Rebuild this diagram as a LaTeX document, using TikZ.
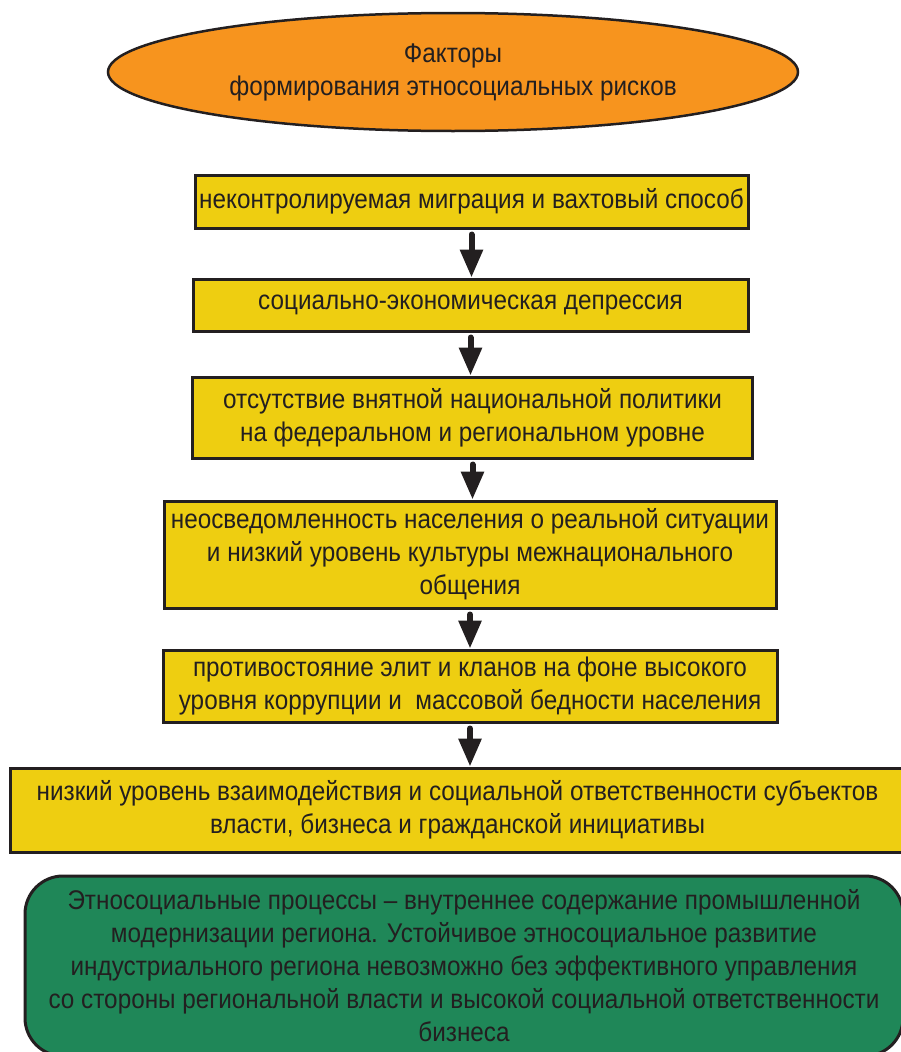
\documentclass[tikz,border=0pt]{standalone}
\usepackage{fontspec}
\setmainfont{Liberation Sans}[FakeStretch=0.9]
\usepackage{tikz}
\usetikzlibrary{arrows.meta,positioning,shapes.geometric}

\definecolor{inkdark}{RGB}{35,31,32}
\definecolor{titleorange}{RGB}{247,148,30}
\definecolor{factoryellow}{RGB}{238,206,17}
\definecolor{summarygreen}{RGB}{31,135,88}

\begin{document}
\begin{tikzpicture}[x=1pt, y=1pt,
        every node/.style={font=\fontsize{27}{33}\selectfont, text=inkdark, align=center},
        titleshape/.style={ellipse, draw=inkdark, line width=2.5pt, fill=titleorange, inner sep=0pt},
        factor/.style={rectangle, draw=inkdark, line width=3pt, fill=factoryellow, inner sep=0pt},
        summary/.style={rectangle, rounded corners=38pt, draw=inkdark, line width=3pt, fill=summarygreen, inner sep=0pt},
        flow/.style={draw=inkdark, line width=6pt, line cap=round, shorten <=5pt, -{Triangle[width=22pt,length=28pt]}}]
        \useasboundingbox (0,0) rectangle (901,-1052);
        \node[titleshape, minimum width=690pt, minimum height=118pt] (factors) at (453,-72) {Факторы\\формирования этносоциальных рисков};
        \node[factor, minimum width=553pt, minimum height=53pt] (migration) at (471.5,-201.5) {неконтролируемая миграция и вахтовый способ};
        \node[factor, minimum width=555pt, minimum height=52pt, below=48pt of migration, xshift=-1pt] (depression) {социально-экономическая депрессия};
        \draw[flow] (migration.south) -- (migration.south |- depression.north);
        \node[factor, minimum width=560pt, minimum height=81pt, below=43pt of depression, xshift=2pt] (policy) {отсутствие внятной национальной политики\\на федеральном и региональном уровне};
        \draw[flow] (depression.south) -- (depression.south |- policy.north);
        \node[factor, minimum width=612pt, minimum height=107pt, below=40pt of policy, xshift=-2.5pt] (awareness) {неосведомленность населения о реальной ситуации\\и низкий уровень культуры межнационального\\общения};
        \draw[flow] (policy.south) -- (policy.south |- awareness.north);
        \node[factor, minimum width=614pt, minimum height=72pt, below=39pt of awareness] (elites) {противостояние элит и кланов на фоне высокого\\уровня коррупции и \ массовой бедности населения};
        \draw[flow] (awareness.south) -- (awareness.south |- elites.north);
        \node[factor, minimum width=895pt, minimum height=84pt, below=43pt of elites, xshift=-12.5pt] (interaction) {низкий уровень взаимодействия и социальной ответственности субъектов\\власти, бизнеса и гражданской инициативы};
        \draw[flow] (elites.south) -- (elites.south |- interaction.north);
        \node[summary, minimum width=878pt, minimum height=180pt, below=21pt of interaction, xshift=6.5pt] (processes) {Этносоциальные процессы -- внутреннее содержание промышленной\\модернизации региона. Устойчивое этносоциальное развитие\\индустриального региона невозможно без эффективного управления\\со стороны региональной власти и высокой социальной ответственности\\бизнеса};
\end{tikzpicture}
\end{document}
